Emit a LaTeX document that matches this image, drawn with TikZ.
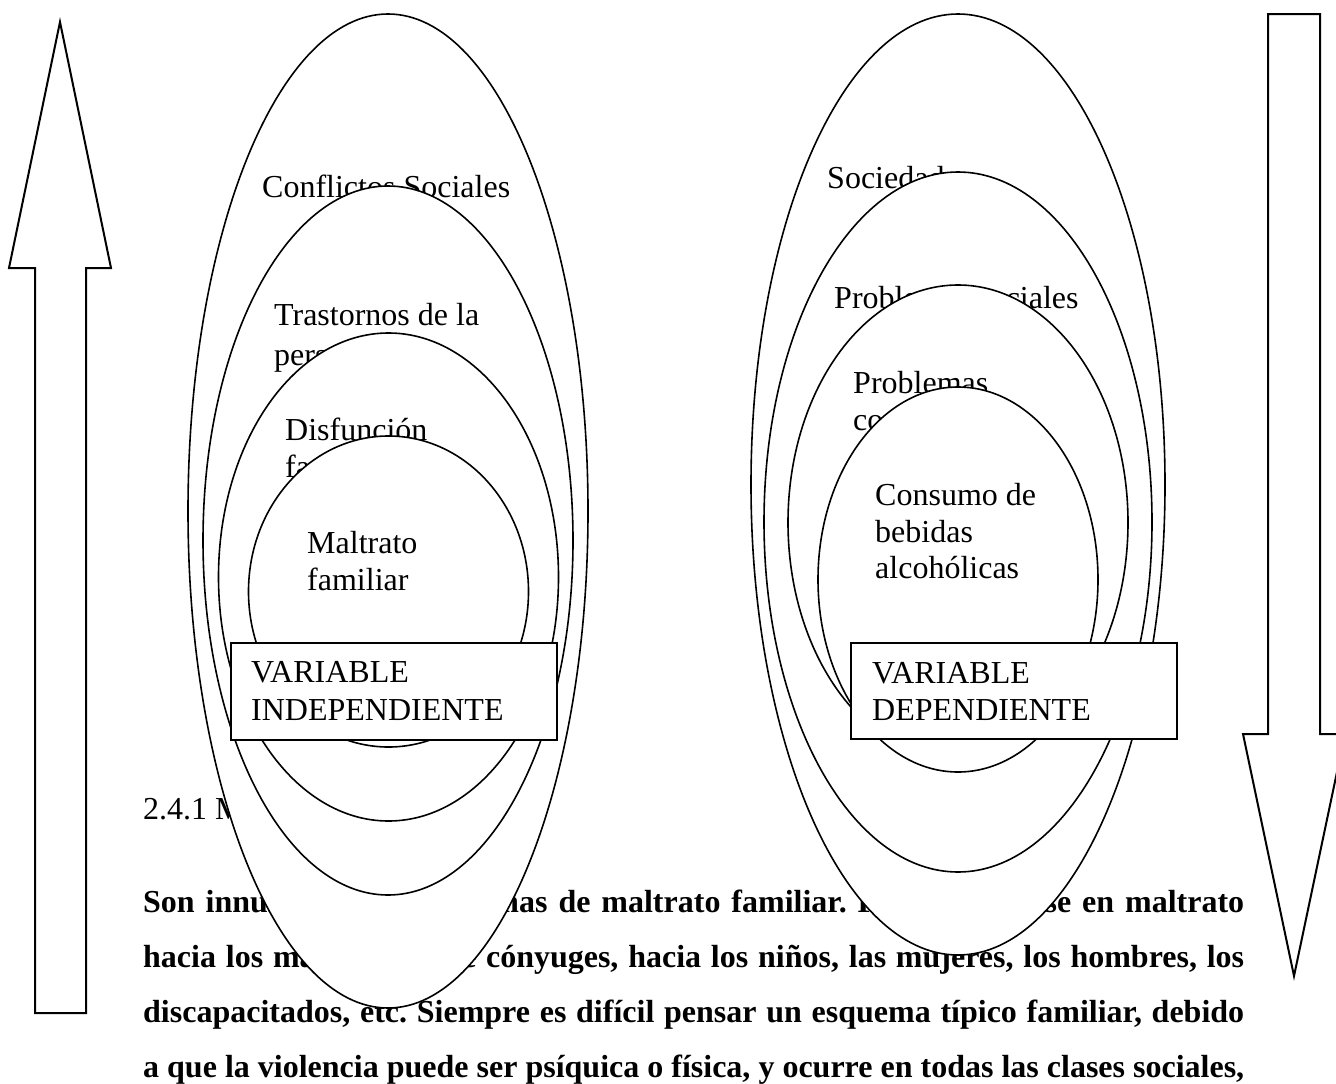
\documentclass[tikz,border=0pt]{standalone}
\usepackage{fontspec}
\setmainfont{Liberation Serif}
\usetikzlibrary{shapes.geometric}
\frenchspacing
\begin{document}
\begin{tikzpicture}[x=1pt,y=-1pt,
  ov/.style={draw=black, fill=white, ellipse, line width=1.6pt, inner sep=0pt, outer sep=0pt},
  lbltxt/.style={anchor=base west, inner sep=0pt, font=\fontsize{32}{38}\selectfont},
  bodytxt/.style={anchor=base west, inner sep=0pt, font=\fontsize{32}{55}\selectfont\bfseries},
  vbox/.style={draw=black, fill=white, line width=2pt, rectangle, inner sep=0pt, outer sep=0pt},
  bigarrow/.style={draw=black, fill=white, line width=2pt, line join=miter}]

\useasboundingbox (0,0) rectangle (1336,1084);
\clip (0,0) rectangle (1336,1084);
\fill[white] (0,0) rectangle (1336,1084);

% body text
\node[lbltxt] (heading) at (143,819) {2.4.1 MALTRATO FAMILIAR};
\node[bodytxt] (l1) at (143,912) {\makebox[1101pt][s]{Son innumerables las formas de maltrato familiar. Puede pensarse en maltrato}};
\node[bodytxt] (l2) at (143,967) {\makebox[1101pt][s]{hacia los mayores, entre cónyuges, hacia los niños, las mujeres, los hombres, los}};
\node[bodytxt] (l3) at (143,1022) {\makebox[1101pt][s]{discapacitados, etc. Siempre es difícil pensar un esquema típico familiar, debido}};
\node[bodytxt] (l4) at (143,1077) {\makebox[1101pt][s]{a que la violencia puede ser psíquica o física, y ocurre en todas las clases sociales,}};

% arrows
\draw[bigarrow] (60,22) -- (111,268) -- (86,268) -- (86,1013) -- (35,1013) -- (35,268) -- (9,268) -- cycle;
\draw[bigarrow] (1268,14) -- (1320,14) -- (1320,734) -- (1345,734) -- (1294,976) -- (1243,734) -- (1268,734) -- cycle;

% left group
\node[ov, minimum width=400pt, minimum height=994pt] (e1) at (388,511) {};
\node[lbltxt] (t1) at (262,197) {Conflictos Sociales};
\node[ov, minimum width=370pt, minimum height=709pt] (e2) at (388,540.5) {};
\node[lbltxt] (t2a) at (274,325) {Trastornos de la};
\node[lbltxt] (t2b) at (274,365) {personalidad};
\node[ov, minimum width=340pt, minimum height=488pt] (e3) at (388.5,577) {};
\node[lbltxt] (t3a) at (285,440) {Disfunción};
\node[lbltxt] (t3b) at (285,477) {familiar};
\node[ov, minimum width=280pt, minimum height=311pt] (e4) at (388.5,591.5) {};
\node[lbltxt] (t4a) at (307,553) {Maltrato};
\node[lbltxt] (t4b) at (307,590) {familiar};
\node[vbox, minimum width=326pt, minimum height=97pt] (bi) at (394,691.5) {};
\node[lbltxt] (bia) at (251,682) {VARIABLE};
\node[lbltxt] (bib) at (251,720) {INDEPENDIENTE};

% right group
\node[ov, minimum width=414pt, minimum height=941pt] (r1) at (958,484.5) {};
\node[lbltxt] (s1) at (827,188) {Sociedad};
\node[ov, minimum width=388pt, minimum height=700pt] (r2) at (958,522) {};
\node[lbltxt] (s2) at (834,308) {Problemas sociales};
\node[ov, minimum width=340pt, minimum height=475pt] (r3) at (958,522.5) {};
\node[lbltxt] (s3a) at (853,393) {Problemas};
\node[lbltxt] (s3b) at (853,430) {conductuales};
\node[ov, minimum width=280pt, minimum height=385pt] (r4) at (958,579.5) {};
\node[lbltxt] (s4a) at (875,505) {Consumo de};
\node[lbltxt] (s4b) at (875,542) {bebidas};
\node[lbltxt] (s4c) at (875,578) {alcohólicas};
\node[vbox, minimum width=326pt, minimum height=96pt] (bd) at (1014,691) {};
\node[lbltxt] (bda) at (872,683) {VARIABLE};
\node[lbltxt] (bdb) at (872,720) {DEPENDIENTE};
\end{tikzpicture}
\end{document}
